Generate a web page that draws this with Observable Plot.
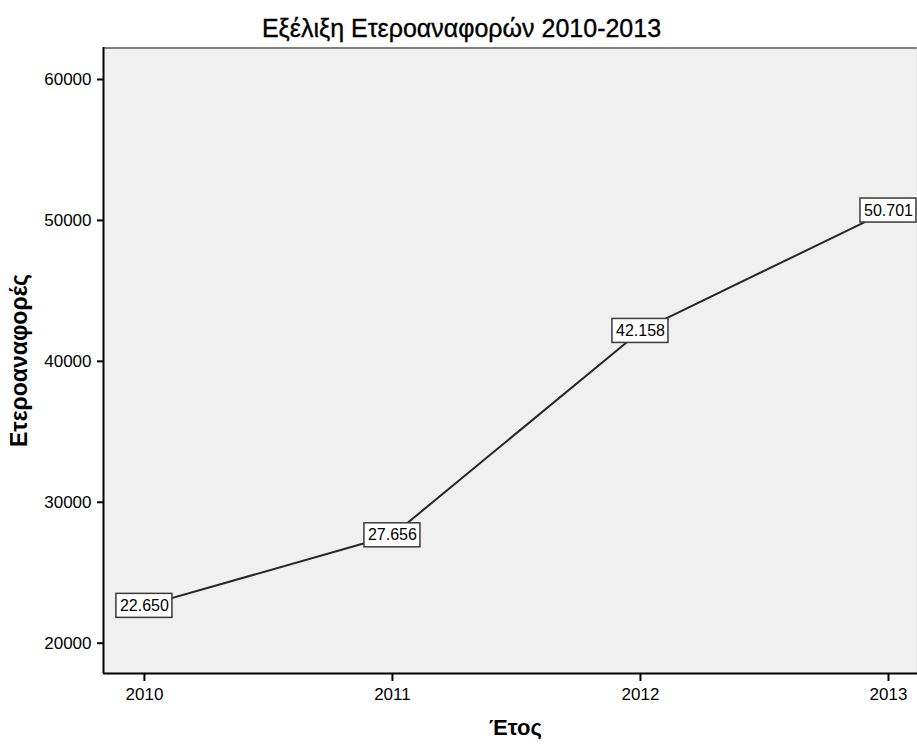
<!DOCTYPE html>
<html>
<head>
<meta charset="utf-8">
<script src="https://cdn.jsdelivr.net/npm/d3@7"></script>
<script src="https://cdn.jsdelivr.net/npm/@observablehq/plot@0.6"></script>
<style>
  html, body { margin: 0; padding: 0; background: #fff; }
  #title { width: 917px; height: 47px; position: relative; font-family: "Liberation Sans", Arial, sans-serif; font-size: 25px; color: #000; }
  #title span { position: absolute; left: 3px; width: 917px; text-align: center; top: 14px; line-height: normal; -webkit-text-stroke: 0.35px #000; }
</style>
</head>
<body>
<div id="title"><span id="titleText"></span></div>
<div id="chart"></div>
<script>
const years = [2010, 2011, 2012, 2013];
const values = [22650, 27656, 42158, 50701];
const yTicks = [20000, 30000, 40000, 50000, 60000];
const titleText = "Εξέλιξη Ετεροαναφορών 2010-2013";
const yLabel = "Ετεροαναφορές";
const xLabel = "Έτος";

document.getElementById("titleText").textContent = titleText;

const data = years.map((y, i) => ({year: y, value: values[i]}));
const fmt = d3.formatLocale({decimal: ",", thousands: ".", grouping: [3], currency: ["", "€"]}).format(",d");

const xDomain = [2009.835, 2013.117];
const yDomain = [17851, 62270];
const font = "Liberation Sans, Arial, sans-serif";

const plot = Plot.plot({
  width: 917,
  height: 699,
  marginTop: 0,
  marginBottom: 73,
  marginLeft: 103,
  marginRight: 0,
  style: {background: "#fff", fontFamily: font, fontSize: "17px", color: "#000"},
  x: {domain: xDomain, ticks: years, tickFormat: "d"},
  y: {domain: yDomain, ticks: yTicks, tickFormat: "d"},
  marks: [
    Plot.frame({fill: "#f0f0f0", stroke: "none"}),
    Plot.ruleY([yDomain[1]], {stroke: "#808080", strokeWidth: 3}),
    Plot.ruleX([xDomain[1]], {stroke: "#d8d8d8", strokeWidth: 1, dx: -0.5}),
    Plot.axisY({ticks: yTicks, tickFormat: "d", tickSize: 6, tickPadding: 6, strokeWidth: 2, label: null, fontSize: 17}),
    Plot.axisX({ticks: years, tickFormat: "d", tickSize: 8, tickPadding: 6, strokeWidth: 2, label: null, fontSize: 17}),
    Plot.ruleY([yDomain[0]], {stroke: "#000", strokeWidth: 2}),
    Plot.ruleX([xDomain[0]], {stroke: "#000", strokeWidth: 2}),
    Plot.line(data, {x: "year", y: "value", stroke: "#262626", strokeWidth: 2}),
    Plot.rect(data, {x1: "year", x2: "year", y1: "value", y2: "value", fill: "#fff", stroke: "#3a3a3a", strokeWidth: 1.5,
      insetLeft: -28, insetRight: -28, insetTop: -12, insetBottom: -12}),
    Plot.text(data, {x: "year", y: "value", text: d => fmt(d.value), fontSize: 16, fontFamily: font, fill: "#000"}),
    Plot.text([yLabel], {frameAnchor: "left", textAnchor: "middle", dx: -84, rotate: -90, text: d => d, fontSize: 23, fontWeight: "bold", fontFamily: font}),
    Plot.text([xLabel], {frameAnchor: "bottom", textAnchor: "middle", dy: 61, dx: 5, text: d => d, fontSize: 22, fontWeight: "bold", fontFamily: font})
  ]
});
document.getElementById("chart").appendChild(plot);
</script>
</body>
</html>
